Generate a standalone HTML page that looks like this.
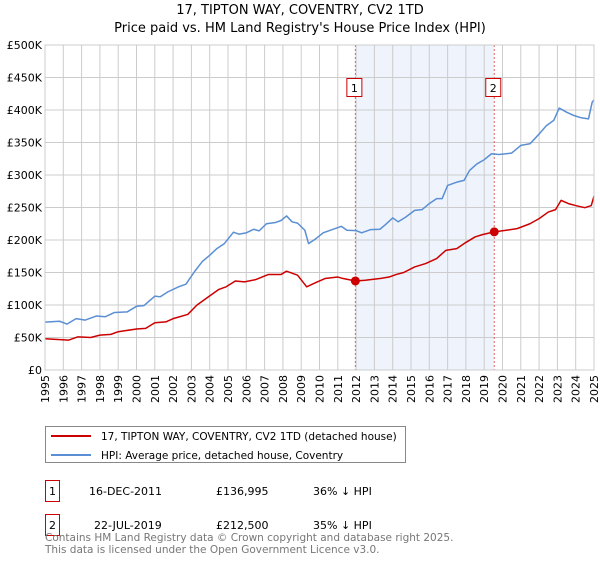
<!DOCTYPE html>
<html><head><meta charset="utf-8"><style>
body{margin:0;background:#fff;font-family:"DejaVu Sans","Liberation Sans",sans-serif;}
svg text{font-family:"DejaVu Sans","Liberation Sans",sans-serif;}
</style></head><body>
<svg id="c" width="600" height="560" xmlns="http://www.w3.org/2000/svg">
<text x="300" y="14" text-anchor="middle" font-size="13" fill="#000">17, TIPTON WAY, COVENTRY, CV2 1TD</text>
<text x="300" y="32" text-anchor="middle" font-size="13" fill="#000">Price paid vs. HM Land Registry's House Price Index (HPI)</text>
<g id="plot"></g>
<g>
<rect x="45.5" y="426.5" width="360" height="36" fill="#fff" stroke="#888"/>
<line x1="51" y1="436" x2="91" y2="436" stroke="#cc0000" stroke-width="2"/>
<text x="101" y="440" font-size="10.5">17, TIPTON WAY, COVENTRY, CV2 1TD (detached house)</text>
<line x1="51" y1="455" x2="91" y2="455" stroke="#5b8fd4" stroke-width="2"/>
<text x="101" y="459" font-size="10.5">HPI: Average price, detached house, Coventry</text>
</g>
<g font-size="11">
<rect x="45.5" y="480.5" width="14" height="21" fill="#fff" stroke="#cc0000"/>
<text x="52.5" y="495" text-anchor="middle">1</text>
<text x="89" y="495">16-DEC-2011</text><text x="216" y="495">£136,995</text><text x="313" y="495">36% ↓ HPI</text>
<rect x="45.5" y="514.5" width="14" height="21" fill="#fff" stroke="#cc0000"/>
<text x="52.5" y="529" text-anchor="middle">2</text>
<text x="94" y="529">22-JUL-2019</text><text x="216" y="529">£212,500</text><text x="313" y="529">35% ↓ HPI</text>
</g>
<text x="45" y="541" font-size="10.5" fill="#777">Contains HM Land Registry data © Crown copyright and database right 2025.</text>
<text x="45" y="553" font-size="10.5" fill="#777">This data is licensed under the Open Government Licence v3.0.</text>
</svg>
<script>
const yTicks=[0,50000,100000,150000,200000,250000,300000,350000,400000,450000,500000];
const yTickLabels=["£0","£50K","£100K","£150K","£200K","£250K","£300K","£350K","£400K","£450K","£500K"];
const years=[1995,1996,1997,1998,1999,2000,2001,2002,2003,2004,2005,2006,2007,2008,2009,2010,2011,2012,2013,2014,2015,2016,2017,2018,2019,2020,2021,2022,2023,2024,2025];
const saleDates=[2011.96,2019.55];
const salePrices=[136995,212500];
const saleLabels=["1","2"];
const hpiT=[1995.0,1995.8,1996.2,1996.7,1997.2,1997.8,1998.3,1998.8,1999.5,2000.0,2000.4,2001.0,2001.3,2001.7,2002.3,2002.7,2003.2,2003.6,2004.0,2004.4,2004.8,2005.3,2005.6,2006.0,2006.4,2006.7,2007.1,2007.6,2007.9,2008.2,2008.5,2008.8,2009.2,2009.4,2009.8,2010.2,2010.7,2011.2,2011.5,2012.0,2012.3,2012.8,2013.3,2013.6,2014.0,2014.3,2014.7,2015.2,2015.6,2016.0,2016.4,2016.7,2017.0,2017.5,2017.9,2018.2,2018.6,2019.0,2019.4,2019.8,2020.2,2020.5,2021.0,2021.5,2022.0,2022.4,2022.8,2023.1,2023.5,2023.9,2024.3,2024.7,2024.9,2025.0];
const hpiV=[73.7,75,70.6,79,76.8,83,82,88.5,89.5,98,99,113.6,112.6,120,128,132,152.5,167,176.5,187,194.5,212,209,211,216.5,214,225,227,230,237,228,226,215,194.5,202,211,216,221,215,214.5,211,216,216.5,223.6,234,228,235,245.6,246.7,256,263.6,263.6,284,289,291.7,307,317,323.5,332.7,331.6,332.7,333.7,345.5,348,363,376,384,403,396.6,391.5,388,386.4,412,415.6];
const ppT=[1995.0,1996.3,1996.8,1997.5,1998.0,1998.6,1999.0,2000.0,2000.5,2001.0,2001.6,2002.0,2002.8,2003.3,2003.8,2004.5,2004.9,2005.4,2005.9,2006.5,2007.2,2007.9,2008.2,2008.8,2009.3,2009.8,2010.3,2011.0,2011.3,2011.96,2012.5,2013.3,2013.8,2014.2,2014.6,2015.2,2015.8,2016.4,2016.9,2017.5,2017.9,2018.5,2018.9,2019.55,2020.2,2020.8,2021.5,2022.0,2022.5,2022.9,2023.2,2023.6,2024.0,2024.5,2024.85,2025.0];
const ppV=[48,46,51,50,53.7,54.8,58.9,63,64,72.7,74,79,85.5,99.8,110,124,128,137,135.6,139,146.9,147,152,145.9,128,134.6,140.7,143,140.7,136.995,138,140.7,143,147,150,158.6,163.8,171.5,184,186.8,194.5,204.7,208.3,212.5,215,217.5,225,232.9,243,246.7,261,256,253,249.7,253,267.6];
const L=45,R=594,T=45,B=370;
const x=t=>L+(t-1995)/30*(R-L);
const y=v=>B-v/500000*(B-T);
const NS="http://www.w3.org/2000/svg";
const g=document.getElementById('plot');
function mk(tag,at,parent){const e=document.createElementNS(NS,tag);for(const k in at)e.setAttribute(k,at[k]);(parent||g).appendChild(e);return e;}
const sh=mk('rect',{x:x(saleDates[0]),y:T,width:x(saleDates[1])-x(saleDates[0]),height:B-T,fill:'#eef3fc'});


years.forEach(yr=>{const l=mk('line',{x1:x(yr),x2:x(yr),y1:T,y2:B,stroke:'#cccccc','stroke-width':1});


const t=mk('text',{x:0,y:0,'font-size':11,'text-anchor':'end',transform:`translate(${x(yr)+4},${B+5}) rotate(-90)`});t.textContent=yr;

});
yTicks.forEach((v,i)=>{const l=mk('line',{x1:L,x2:R,y1:y(v),y2:y(v),stroke:'#cccccc','stroke-width':1});


const t=mk('text',{x:L-3,y:y(v)+4,'font-size':11,'text-anchor':'end'});t.textContent=yTickLabels[i];

});
saleDates.forEach((d,i)=>{const l=mk('line',{x1:x(d),x2:x(d),y1:T,y2:B,stroke:'#e06666','stroke-width':1,'stroke-dasharray':'2,2'});


const bx=mk('rect',{x:x(d)-8.5,y:78.5,width:15,height:18,fill:'#fff',stroke:'#cc0000'});


const t=mk('text',{x:x(d)-1,y:92,'font-size':11,'text-anchor':'middle'});t.textContent=saleLabels[i];

});
function line(ts,vs,col,name){const p=mk('polyline',{points:ts.map((t,i)=>x(t)+','+y(vs[i]*1000)).join(' '),fill:'none',stroke:col,'stroke-width':1.5,'stroke-linejoin':'round'});

}
line(hpiT,hpiV,'#5b8fd4','hpi-line');
line(ppT,ppV,'#cc0000','property-price-line');
saleDates.forEach((d,i)=>{const c=mk('circle',{cx:x(d),cy:y(salePrices[i]),r:4.5,fill:'#cc0000'});

});
mk('rect',{x:L,y:T,width:R-L,height:B-T,fill:'none',stroke:'#cccccc'});
</script>
</body></html>
